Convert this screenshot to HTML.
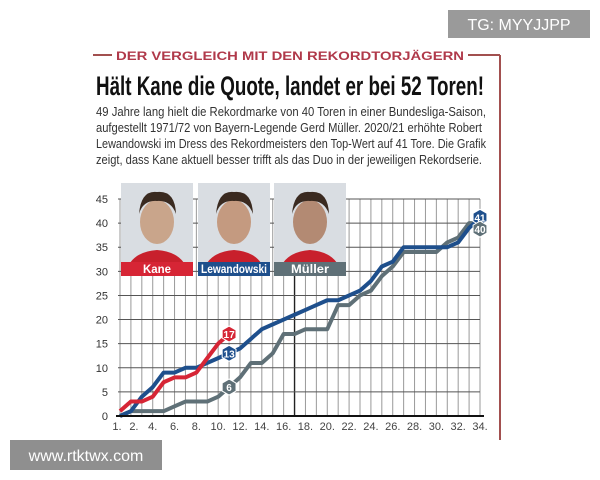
<!DOCTYPE html>
<html><head><meta charset="utf-8"><style>
html,body{margin:0;padding:0;background:#fff;}
svg{display:block;font-family:"Liberation Sans Narrow","Liberation Sans",sans-serif;}
</style></head><body>
<svg id="chart" width="600" height="480" viewBox="0 0 600 480" xmlns="http://www.w3.org/2000/svg">
<rect x="0" y="0" width="600" height="480" fill="#fff"/>
<g>
<rect x="448" y="10" width="142" height="28" fill="#9a9a9a"/>
<text x="519" y="30" text-anchor="middle" font-family="Liberation Sans,sans-serif" font-size="16" fill="#fff">TG: MYYJJPP</text>
</g>
<line x1="500" y1="55" x2="500" y2="440" stroke="#a2504f" stroke-width="2"/>
<line x1="93" y1="55" x2="112" y2="55" stroke="#a2504f" stroke-width="2"/>
<line x1="468" y1="55" x2="500" y2="55" stroke="#a2504f" stroke-width="2"/>
<text x="116" y="60" font-family="Liberation Sans,sans-serif" font-weight="bold" font-size="12" fill="#b0394a" textLength="348" lengthAdjust="spacingAndGlyphs">DER VERGLEICH MIT DEN REKORDTORJÄGERN</text>
<text x="96" y="95" font-weight="bold" font-size="27" fill="#111" textLength="388" lengthAdjust="spacingAndGlyphs">Hält Kane die Quote, landet er bei 52 Toren!</text>
<g font-size="13" fill="#333">
<text x="96" y="116" textLength="390" lengthAdjust="spacingAndGlyphs">49 Jahre lang hielt die Rekordmarke von 40 Toren in einer Bundesliga-Saison,</text>
<text x="96" y="132" textLength="386" lengthAdjust="spacingAndGlyphs">aufgestellt 1971/72 von Bayern-Legende Gerd Müller. 2020/21 erhöhte Robert</text>
<text x="96" y="148" textLength="390" lengthAdjust="spacingAndGlyphs">Lewandowski im Dress des Rekordmeisters den Top-Wert auf 41 Tore. Die Grafik</text>
<text x="96" y="164" textLength="386" lengthAdjust="spacingAndGlyphs">zeigt, dass Kane aktuell besser trifft als das Duo in der jeweiligen Rekordserie.</text>
</g>
<g id="grid"></g>
<g id="photos"></g>
<g id="series"></g>
<g id="axes"></g>
<g>
<rect x="10" y="440" width="152" height="30" fill="#8f8f8f"/>
<text x="86" y="461" text-anchor="middle" font-family="Liberation Sans,sans-serif" font-size="16" fill="#fff">www.rtktwx.com</text>
</g>
</svg>
<script>
const matchdays = Array.from({length:34},(_,i)=>i+1);
const yTicks = [0,5,10,15,20,25,30,35,40,45];
const xTickLabels = ["1.","2.","4.","6.","8.","10.","12.","14.","16.","18.","20.","22.","24.","26.","28.","30.","32.","34."];
const xTickDays = [1,2,4,6,8,10,12,14,16,18,20,22,24,26,28,30,32,34];
const kaneGoals = [1,3,3,4,7,8,8,9,12,15,17];
const lewandowskiGoals = [0,1,4,6,9,9,10,10,11,12,13,14,16,18,19,20,21,22,23,24,24,25,26,28,31,32,35,35,35,35,35,36,39,41];
const muellerGoals = [0,1,1,1,1,2,3,3,3,4,6,8,11,11,13,17,17,18,18,18,23,23,25,26,29,31,34,34,34,34,36,37,40,40];

const NS="http://www.w3.org/2000/svg";
const X0=120, X1=480, Y0=416, Y1=199;
const xs=d=>X0+(d-1)*(X1-X0)/33;
const ys=v=>Y0-v*(Y0-Y1)/45;
function mk(tag,attrs,parent){const e=document.createElementNS(NS,tag);for(const k in attrs)e.setAttribute(k,attrs[k]);parent.appendChild(e);return e;}
const grid=document.getElementById('grid'), axes=document.getElementById('axes'), series=document.getElementById('series'), photos=document.getElementById('photos');

matchdays.forEach(d=>{
  const l=mk('line',{x1:xs(d),x2:xs(d),y1:ys(45),y2:Y0,stroke:d===17?'#222':'#999','stroke-width':d===17?1.4:1},grid);
  
  
});
yTicks.forEach(v=>{
  const l=mk('line',{x1:X0-2,x2:X1,y1:ys(v),y2:ys(v),stroke:'#555','stroke-width':1},grid);
  
  
  const t=mk('text',{x:108,y:ys(v)+4,'text-anchor':'end','font-size':11,fill:'#333','font-family':'Liberation Sans,sans-serif'},axes);
  t.textContent=v;
  
  
});
const xa=mk('line',{x1:X0-4,x2:X1+4,y1:Y0,y2:Y0,stroke:'#111','stroke-width':2},axes);


xTickDays.forEach((d,i)=>{
  const t=mk('text',{x:xs(d)+(d===1?-3:d===2?3:0),y:430,'text-anchor':'middle','font-size':11,fill:'#444','font-family':'Liberation Sans,sans-serif'},axes);
  t.textContent=xTickLabels[i];
  
  
});

const ph=[["Kane",121,'#d62535','#c9a58b',28],["Lewandowski",198,'#1e4f8c','#c49a80',66],["Müller",274,'#5f7077','#b38a73',38]];
ph.forEach(([n,x,c,skin,tl])=>{
  const g=mk('g',{},photos);
  
  
  mk('rect',{x:x,y:183,width:72,height:93,fill:'#d9dde2'},g);
  mk('path',{d:`M${x+4} 276 Q${x+8} 252 ${x+36} 250 Q${x+64} 252 ${x+68} 276 Z`,fill:'#c8202c'},g);
  mk('ellipse',{cx:x+36,cy:222,rx:17,ry:22,fill:skin},g);
  mk('path',{d:`M${x+18} 214 Q${x+20} 190 ${x+36} 192 Q${x+54} 190 ${x+55} 214 Q${x+50} 200 ${x+36} 201 Q${x+22} 200 ${x+18} 214Z`,fill:'#3a2a20'},g);
  mk('rect',{x:x,y:262,width:72,height:14,fill:c},g);
  const t=mk('text',{x:x+36-tl/2,y:273,'font-size':12,'font-weight':'bold',fill:'#fff',textLength:tl,lengthAdjust:'spacingAndGlyphs'},g);
  t.textContent=n;
});

function drawLine(data,color,name){
  const p=mk('polyline',{points:data.map((v,i)=>xs(i+1)+','+ys(v)).join(' '),fill:'none',stroke:color,'stroke-width':4,'stroke-linejoin':'round'},series);
  
  
}
function badge(d,v,color,name,dy){
  const cx=xs(d), cy=ys(v)+(dy||0), r=8;
  const g=mk('g',{},series);
  
  
  const pts=[0,1,2,3,4,5].map(k=>{const a=Math.PI/3*k-Math.PI/2;return (cx+r*Math.cos(a))+','+(cy+r*Math.sin(a));}).join(' ');
  mk('polygon',{points:pts,fill:color,stroke:'#fff','stroke-width':1},g);
  const t=mk('text',{x:cx,y:cy+4,'text-anchor':'middle','font-size':10,'font-weight':'bold',fill:'#fff','font-family':'Liberation Sans,sans-serif'},g);
  t.textContent=v;
}
drawLine(muellerGoals,'#5f7077','line-mueller');
drawLine(lewandowskiGoals,'#1e4f8c','line-lewandowski');
drawLine(kaneGoals,'#d62535','line-kane');
badge(kaneGoals.length,kaneGoals[kaneGoals.length-1],'#d62535','badge-kane');
badge(11,lewandowskiGoals[10],'#1e4f8c','badge-lewandowski-md11');
badge(11,muellerGoals[10],'#5f7077','badge-mueller-md11');
badge(34,lewandowskiGoals[33],'#1e4f8c','badge-lewandowski-final',-1);
badge(34,muellerGoals[33],'#5f7077','badge-mueller-final',6);
</script>
</body></html>
